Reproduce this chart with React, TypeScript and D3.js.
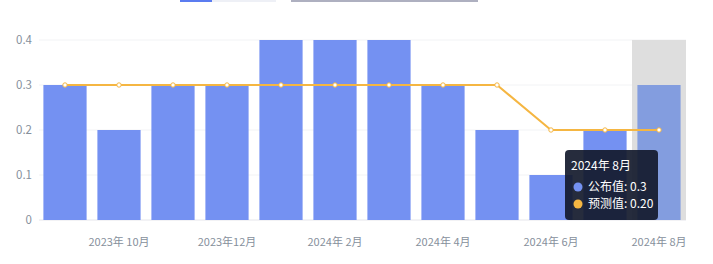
import React from "react";
import * as d3 from "d3";

const months = ["2023-09","2023-10","2023-11","2023-12","2024-01","2024-02","2024-03","2024-04","2024-05","2024-06","2024-07","2024-08"];
const monthLabels = ["2023年 9月","2023年 10月","2023年11月","2023年12月","2024年 1月","2024年 2月","2024年 3月","2024年 4月","2024年 5月","2024年 6月","2024年 7月","2024年 8月"];
const published = [0.3, 0.2, 0.3, 0.3, 0.4, 0.4, 0.4, 0.3, 0.2, 0.1, 0.2, 0.3];
const forecast = [0.3, 0.3, 0.3, 0.3, 0.3, 0.3, 0.3, 0.3, 0.3, 0.2, 0.2, 0.2];
const yTicks = [0, 0.1, 0.2, 0.3, 0.4];
const hoverIndex = 11;

const W = 713, H = 264;
const left = 38, right = 686, top = 40, bottom = 220;
const FONT = "'Noto Sans CJK SC', 'Noto Sans', sans-serif";

export default function App() {
  const x = d3.scaleBand<string>().domain(months).range([left, right]).paddingInner(0.2).paddingOuter(0.1);
  const xb = d3.scaleBand<string>().domain(months).range([left, right]);
  const y = d3.scaleLinear().domain([0, 0.4]).range([bottom, top]);
  const line = d3.line<number>()
    .x((_, i) => xb(months[i])! + xb.bandwidth() / 2)
    .y((d) => y(d));

  const tipX = 565, tipY = 150;
  return (
    <svg width={W} height={H} style={{ position: "absolute", left: 0, top: 0, fontFamily: FONT }}>
      {/* top slider remnants */}
      <rect x={180} y={0} width={32} height={2} fill="#5b7cf0" />
      <rect x={212} y={0} width={64} height={2} fill="#eef0f6" />
      <rect x={291} y={0} width={187} height={2} fill="#aeb0c0" />
      {yTicks.map((t) => (
        <g key={t}>
          <line x1={left + 1} x2={right} y1={y(t)} y2={y(t)} stroke={t === 0 ? "#e5e6eb" : "#f2f3f5"} strokeWidth={1} />
          <text x={32} y={y(t)} dy="0.35em" textAnchor="end" fontSize={11.5} fill="#86909c">{t === 0 ? "0" : t.toFixed(1)}</text>
        </g>
      ))}
      <rect x={xb(months[hoverIndex])} y={top} width={xb.bandwidth()} height={bottom - top} fill="#dedede" />
      {published.map((v, i) => (
        <rect key={i} x={x(months[i])} y={y(v)} width={x.bandwidth()} height={bottom - y(v)}
          fill={i === hoverIndex ? "#839ddf" : "#7491f2"} />
      ))}
      <path d={line(forecast)!} fill="none" stroke="#f5b642" strokeWidth={2} />
      {forecast.map((v, i) => (
        <circle key={i} cx={xb(months[i])! + xb.bandwidth() / 2} cy={y(v)} r={2.2} fill="#fff" stroke="#f5b642" strokeWidth={1} />
      ))}
      {months.map((m, i) => i % 2 === 1 ? (
        <text key={m} x={xb(m)! + xb.bandwidth() / 2} y={246} textAnchor="middle" fontSize={11} fill="#86909c">{monthLabels[i]}</text>
      ) : null)}
      {/* tooltip */}
      <g>
        <rect x={tipX} y={tipY} width={93} height={70} rx={4} fill="#141a2c" fillOpacity={0.92} />
        <text x={tipX + 6} y={tipY + 20} fontSize={12} fill="#fff">{monthLabels[hoverIndex]}</text>
        <circle cx={tipX + 13} cy={tipY + 37} r={4.5} fill="#7491f2" />
        <text x={tipX + 23} y={tipY + 41} fontSize={12} fill="#fff">公布值: {published[hoverIndex]}</text>
        <circle cx={tipX + 13} cy={tipY + 54} r={4.5} fill="#f5b642" />
        <text x={tipX + 23} y={tipY + 58} fontSize={12} fill="#fff">预测值: {forecast[hoverIndex].toFixed(2)}</text>
      </g>
    </svg>
  );
}
